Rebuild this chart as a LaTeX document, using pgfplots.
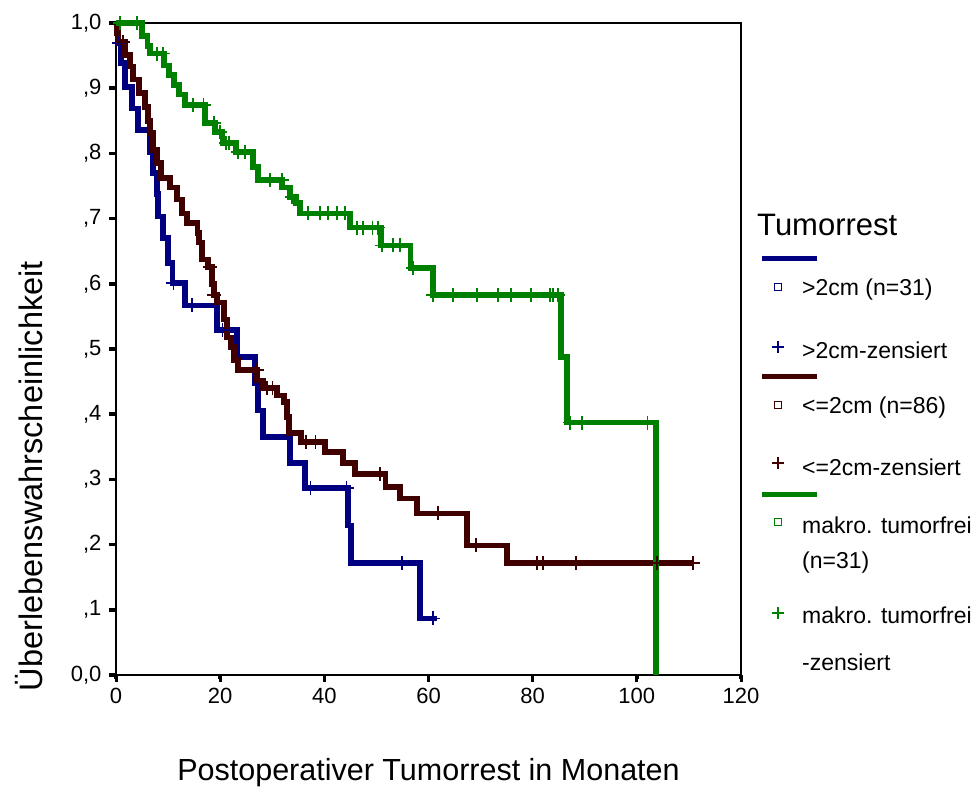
\documentclass[border=0pt]{standalone}
\usepackage{pgfplots}
\pgfplotsset{compat=1.18}
\usepackage{fontspec}
\setmainfont{Liberation Sans}

\definecolor{kmblue}{RGB}{0,0,128}
\definecolor{kmbrown}{RGB}{64,0,0}
\definecolor{kmgreen}{RGB}{0,128,0}

\newcommand{\tickfont}{\fontsize{22}{24}\selectfont}
\newcommand{\labfont}{\fontsize{30.5}{34}\selectfont}

\begin{document}
\begin{tikzpicture}
\useasboundingbox (0pt,0pt) rectangle (976pt,787pt);
\begin{axis}[
  at={(116pt,112pt)}, anchor=south west, scale only axis,
  width=625pt, height=652pt,
  xmin=0, xmax=120, ymin=0, ymax=1,
  xtick={0,20,40,60,80,100,120},
  xticklabels={0,20,40,60,80,100,120},
  ytick={0,0.1,0.2,0.3,0.4,0.5,0.6,0.7,0.8,0.9,1},
  yticklabels={{0,0},{,1},{,2},{,3},{,4},{,5},{,6},{,7},{,8},{,9},{1,0}},
  xtick pos=bottom, ytick pos=left, tick align=outside,
  major tick length=7pt,
  tick style={black, line width=3pt},
  axis line style={line width=1.8pt},
  ticklabel style={font=\tickfont},
  yticklabel style={xshift=-4pt},
  xticklabel style={yshift=-3pt},
  clip=false,
  xlabel={Postoperativer Tumorrest in Monaten},
  ylabel={Überlebenswahrscheinlichkeit},
  xlabel style={font=\labfont, at={(axis description cs:0.5,-0.150)}, anchor=center},
  ylabel style={font=\fontsize{32.5}{36}\selectfont, at={(axis description cs:-0.139,0.305)}, anchor=center},
  every axis plot/.append style={line width=5.5pt, line join=miter},
  censor/.style={only marks, mark=+, mark size=7pt, mark options={line width=1.5pt}},
]
% tick marks drawn outside the frame
\pgfplotsinvokeforeach{0,0.1,0.2,0.3,0.4,0.5,0.6,0.7,0.8,0.9,1}{
  \draw[black, line width=3.5pt] (axis cs:0,#1) -- ++(-7pt,0pt);
}
\pgfplotsinvokeforeach{0,20,40,60,80,100,120}{
  \draw[black, line width=3.5pt] (axis cs:#1,0) -- ++(0pt,-4pt);
}
% >2cm (n=31)
\addplot[kmblue, const plot] coordinates {
  (0,1.0) (0.4,0.969) (1.0,0.939) (1.7,0.902) (3.1,0.869) (4.2,0.836)
  (6.5,0.802) (7.1,0.770) (7.9,0.738) (8.1,0.703) (9.0,0.670) (10.0,0.632)
  (10.8,0.601) (13.2,0.567) (19.4,0.529) (23.2,0.488) (26.7,0.448)
  (27.3,0.406) (28.2,0.365) (33.4,0.325) (36.3,0.287) (44.5,0.229)
  (45.1,0.172) (58.4,0.087) (61.6,0.087)
};
\addplot[kmblue, censor] coordinates {
  (0.5,0.969) (11.0,0.601) (14.6,0.567) (20.4,0.529) (37.3,0.287)
  (44.3,0.287) (54.9,0.172) (60.9,0.087)
};
% <=2cm (n=86)
\addplot[kmbrown, const plot] coordinates {
  (0,1.0) (0.2,0.985) (0.4,0.971) (1.7,0.951) (2.7,0.933) (3.3,0.913)
  (4.4,0.893) (5.6,0.871) (6.1,0.850) (6.5,0.831) (7.1,0.805) (7.9,0.785)
  (8.6,0.762) (10.4,0.748) (11.7,0.729) (12.7,0.708) (13.6,0.693)
  (15.6,0.678) (15.9,0.663) (16.5,0.637) (17.7,0.626) (18.4,0.600)
  (18.8,0.583) (19.4,0.571) (20.7,0.545) (21.3,0.518) (22.1,0.503)
  (22.7,0.483) (23.4,0.468) (27.1,0.452) (28.2,0.440) (30.9,0.429)
  (32.3,0.419) (32.8,0.396) (33.2,0.371) (35.5,0.357) (40.1,0.342)
  (43.6,0.325) (45.9,0.308) (51.7,0.288) (54.5,0.271) (57.8,0.248)
  (67.4,0.199) (75.1,0.172) (110.8,0.172)
};
\addplot[kmbrown, censor] coordinates {
  (1.3,0.971) (18.0,0.626) (18.9,0.583) (27.0,0.468) (29.0,0.440)
  (30.0,0.440) (36.5,0.357) (38.3,0.357) (50.7,0.308) (61.8,0.248)
  (69.1,0.199) (80.8,0.172) (82.0,0.172) (88.3,0.172) (103.9,0.172)
  (110.8,0.172)
};
% makro. tumorfrei (n=31)
\addplot[kmgreen, const plot] coordinates {
  (0,1.0) (5.0,0.980) (6.0,0.965) (6.5,0.953) (9.2,0.935) (10.2,0.920)
  (11.1,0.905) (12.1,0.890) (13.2,0.874) (17.1,0.847) (19.0,0.833)
  (20.4,0.816) (23.0,0.802) (26.3,0.779) (27.3,0.759) (31.9,0.748)
  (33.4,0.733) (34.6,0.724) (35.3,0.708) (44.9,0.686) (50.9,0.659)
  (56.5,0.624) (60.9,0.583) (85.4,0.488) (86.6,0.387) (103.7,0.0)
};
\addplot[kmgreen, censor] coordinates {
  (0.8,1.0) (4.0,1.0) (7.9,0.953) (9.0,0.953) (14.8,0.874) (16.8,0.874)
  (18.8,0.847) (20.0,0.833) (21.1,0.816) (21.7,0.816) (23.4,0.802)
  (24.8,0.802) (29.6,0.759) (31.9,0.759) (33.8,0.733) (36.9,0.708)
  (39.2,0.708) (40.7,0.708) (42.4,0.708) (44.0,0.708) (46.3,0.686)
  (47.4,0.686) (49.2,0.686) (50.3,0.686) (51.1,0.659) (53.2,0.659)
  (54.5,0.659) (57.0,0.624) (60.9,0.583) (64.7,0.583) (69.3,0.583)
  (73.3,0.583) (75.8,0.583) (79.7,0.583) (83.3,0.583) (83.9,0.583)
  (84.9,0.583) (87.2,0.387) (89.5,0.387) (102.0,0.387)
};
\end{axis}

% legend
\node[anchor=west, inner sep=0pt, font=\fontsize{31}{34}\selectfont] at (757pt,562pt) {Tumorrest};
\begin{scope}[every node/.style={anchor=west, inner sep=0pt, font=\fontsize{23}{26}\selectfont}]
  \draw[kmblue, line width=5pt] (762pt,528pt) -- (817pt,528pt);
  \draw[kmblue, line width=1.4pt] (774.5pt,496.5pt) rectangle (781.5pt,503.5pt);
  \node at (802pt,497pt) {>2cm (n=31)};
  \draw[kmblue, line width=1.3pt] (772pt,440pt) -- (784pt,440pt) (778pt,434pt) -- (778pt,446pt);
  \node at (802pt,437pt) {>2cm-zensiert};

  \draw[kmbrown, line width=5pt] (762pt,410pt) -- (817pt,410pt);
  \draw[kmbrown, line width=1.4pt] (774.5pt,378.5pt) rectangle (781.5pt,385.5pt);
  \node at (802pt,379pt) {<=2cm (n=86)};
  \draw[kmbrown, line width=1.3pt] (772pt,324pt) -- (784pt,324pt) (778pt,318pt) -- (778pt,330pt);
  \node at (802pt,320pt) {<=2cm-zensiert};

  \draw[kmgreen, line width=5pt] (762pt,292pt) -- (817pt,292pt);
  \draw[kmgreen, line width=1.4pt] (774.5pt,261.5pt) rectangle (781.5pt,268.5pt);
  \node at (802pt,262pt) {makro. tumorfrei};
  \node at (802pt,224pt) {(n=31)};
  \draw[kmgreen, line width=1.3pt] (772pt,174pt) -- (784pt,174pt) (778pt,168pt) -- (778pt,180pt);
  \node at (802pt,172pt) {makro. tumorfrei};
  \node at (802pt,125pt) {-zensiert};
\end{scope}
\end{tikzpicture}
\end{document}
